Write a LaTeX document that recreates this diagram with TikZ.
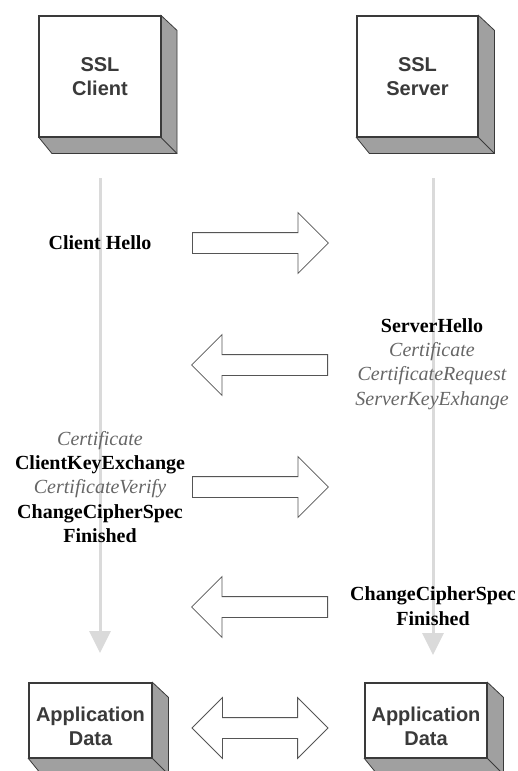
\documentclass[tikz,border=0pt]{standalone}
\usepackage{fontspec}
\usetikzlibrary{shapes.arrows,arrows.meta}
\newfontfamily\boxfont{Liberation Sans}
\newfontfamily\msgfont{Liberation Serif}
\definecolor{edgegray}{HTML}{3A3A3A}
\definecolor{sidegray}{HTML}{A0A0A0}
\definecolor{linegray}{HTML}{DADADA}
\definecolor{italgray}{HTML}{666666}
\definecolor{arrowgray}{HTML}{555555}
\newcommand\optmsg[1]{{\mdseries\itshape\color{italgray}#1}}

\begin{document}
\begin{tikzpicture}[
  x=1pt, y=-1pt,
  slab/.style={
    draw=edgegray,
    line width=1.1pt,
    fill=white,
    align=center,
    inner sep=0pt,
    minimum width=121pt,
    text=edgegray,
    font=\boxfont\bfseries\fontsize{20}{24}\selectfont
  },
  slabside/.style={fill=sidegray, draw=edgegray, line width=0.8pt},
  lifeline/.style={-{Triangle[width=21pt,length=22pt]}, draw=linegray, line width=3pt},
  blockarrow/.style={
    single arrow,
    draw=arrowgray,
    line width=0.8pt,
    fill=white,
    inner xsep=0pt,
    inner ysep=10pt,
    minimum height=136pt,
    minimum width=60pt,
    single arrow head extend=20pt
  },
  msg/.style={
    align=center,
    inner sep=0pt,
    font=\msgfont\bfseries\fontsize{20}{24.4}\selectfont
  }
]
\fill[white] (0,0) rectangle (518,771);
\useasboundingbox (0,0) rectangle (518,771);

\coordinate (cltop) at (100,178);
\coordinate (clend) at (100,653);
\coordinate (svtop) at (433,178);
\coordinate (svend) at (433,655);
\draw[lifeline] (cltop) -- (clend);
\draw[lifeline] (svtop) -- (svend);

\node[slab, minimum height=121pt] (client) at (100,76.5) {SSL\\Client};
\node[slab, minimum height=121pt] (server) at (417.5,76.5) {SSL\\Server};
\node[slab, minimum height=75pt, minimum width=123pt] (appc) at (90.5,720.5) {\rule{0pt}{26pt}Application\\Data};
\node[slab, minimum height=75pt, minimum width=122pt] (apps) at (426,720.5) {\rule{0pt}{26pt}Application\\Data};

\foreach \n in {client,server,appc,apps} {
  \filldraw[slabside] (\n.north east) -- ++(16,15) -- ([shift={(16,16)}]\n.south east)
    -- ([shift={(13,16)}]\n.south west) -- (\n.south west) -- (\n.south east) -- cycle;
  \draw[edgegray, line width=0.8pt] (\n.south east) -- ++(16,16);
  \draw[edgegray, line width=1.1pt] (\n.south west) rectangle (\n.north east);
}

\node[blockarrow, anchor=tail] (hellogo) at (192,243) {};
\node[blockarrow, anchor=tail, shape border rotate=180] (srvback) at (328,365) {};
\node[blockarrow, anchor=tail] (keygo) at (192,487) {};
\node[blockarrow, anchor=tail, shape border rotate=180] (finback) at (328,607) {};
\node[blockarrow, double arrow, double arrow head extend=20pt] (datapath) at (260,728) {};

\node[msg] (hello) at (100,243) {Client Hello};
\node[msg] (srvmsg) at (432,364) {ServerHello\\\optmsg{Certificate}\\\optmsg{CertificateRequest}\\\optmsg{ServerKeyExhange}};
\node[msg] (climsg) at (100,487) {\optmsg{Certificate}\\ClientKeyExchange\\\optmsg{CertificateVerify}\\ChangeCipherSpec\\Finished};
\node[msg] (srvfin) at (433,606) {ChangeCipherSpec\\Finished};
\end{tikzpicture}
\end{document}
